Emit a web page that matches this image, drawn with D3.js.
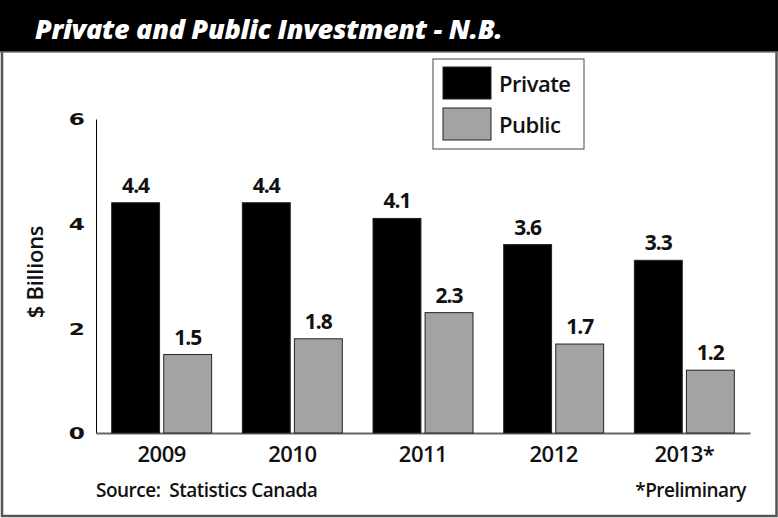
<!DOCTYPE html>
<html>
<head>
<meta charset="utf-8">
<script src="https://cdn.jsdelivr.net/npm/d3@7"></script>
<style>
  html, body { margin: 0; padding: 0; background: #fff; }
  svg { display: block; }
</style>
</head>
<body>
<svg id="chart" width="778" height="518"></svg>
<script>
// Investment in New Brunswick, $ billions
const years = ["2009", "2010", "2011", "2012", "2013*"];
const privateValues = [4.4, 4.4, 4.1, 3.6, 3.3];
const publicValues = [1.5, 1.8, 2.3, 1.7, 1.2];
const seriesNames = ["Private", "Public"];
const yTicks = [0, 2, 4, 6];

const colors = { Private: "#000000", Public: "#a3a3a3" };
const labelFont = "'Open Sans', sans-serif";

const svg = d3.select("#chart");
const W = 778, H = 518;

// Outer frame
svg.append("rect").attr("x", 2).attr("y", 1).attr("width", W - 3.5).attr("height", H - 3)
  .attr("fill", "#fff").attr("stroke", "#555").attr("stroke-width", 2.5);

// Title band
svg.append("rect").attr("x", 0).attr("y", 0).attr("width", W).attr("height", 52).attr("fill", "#000");
svg.append("line").attr("x1", 0).attr("x2", W).attr("y1", 52).attr("y2", 52)
  .attr("stroke", "#777").attr("stroke-width", 1.5);
svg.append("text").attr("x", 35).attr("y", 39)
  .attr("fill", "#fff").attr("font-family", labelFont)
  .attr("font-weight", 800).attr("font-style", "italic").attr("font-size", 27)
  .attr("letter-spacing", -0.3)
  .text("Private and Public Investment - N.B.");

// Scales
const x0 = d3.scaleBand().domain(years).range([96, 750]).paddingInner(0.235).paddingOuter(0.12);
const x1 = d3.scaleBand().domain(seriesNames).range([0, x0.bandwidth()]).paddingInner(0.08);
const y = d3.scaleLinear().domain([0, 6]).range([433, 119]);

// Axes
const yAxis = svg.append("g").attr("transform", "translate(96,0)")
  .call(d3.axisLeft(y).tickValues(yTicks).tickSize(0).tickPadding(11).tickFormat(d3.format("d")));
yAxis.select(".domain").attr("stroke", "#000").attr("stroke-width", 1);
// wide, low digits for the value axis
yAxis.selectAll("text")
  .attr("x", 0)
  .attr("transform", "translate(-11,0) scale(1.45,1)")
  .attr("font-family", "'DejaVu Sans', sans-serif").attr("font-weight", 700)
  .attr("font-size", 16).attr("dy", "0.36em").attr("fill", "#111");

const xAxis = svg.append("g").attr("transform", "translate(0,433)")
  .call(d3.axisBottom(x0).tickSize(0).tickPadding(13).tickSizeOuter(0));
xAxis.select(".domain").attr("stroke", "#666").attr("stroke-width", 2);
xAxis.selectAll("text").attr("font-family", labelFont).attr("font-weight", 600)
  .attr("font-size", 22).attr("letter-spacing", -0.5).attr("fill", "#111");

// Axis title
svg.append("text")
  .attr("transform", "translate(43,272) rotate(-90)")
  .attr("text-anchor", "middle")
  .attr("font-family", labelFont).attr("font-weight", 600).attr("font-size", 22)
  .attr("letter-spacing", -0.3).attr("fill", "#111")
  .text("$ Billions");

// Bars
const rows = years.map((yr, i) => ({ year: yr, Private: privateValues[i], Public: publicValues[i] }));
const groups = svg.selectAll("g.grp").data(rows).join("g").attr("class", "grp")
  .attr("transform", d => `translate(${x0(d.year)},0)`);

groups.selectAll("rect").data(d => seriesNames.map(k => ({ key: k, value: d[k] })))
  .join("rect")
  .attr("x", d => x1(d.key))
  .attr("y", d => y(d.value))
  .attr("width", x1.bandwidth())
  .attr("height", d => y(0) - y(d.value))
  .attr("fill", d => colors[d.key])
  .attr("stroke", "#222").attr("stroke-width", 1);

groups.selectAll("text.val").data(d => seriesNames.map(k => ({ key: k, value: d[k] })))
  .join("text").attr("class", "val")
  .attr("x", d => x1(d.key) + x1.bandwidth() / 2)
  .attr("y", d => y(d.value) - 10)
  .attr("text-anchor", "middle")
  .attr("font-family", labelFont).attr("font-weight", 700).attr("font-size", 21)
  .attr("letter-spacing", -1).attr("fill", "#111")
  .text(d => d3.format(".1f")(d.value));

// Legend
const lg = svg.append("g");
lg.append("rect").attr("x", 433).attr("y", 59).attr("width", 151).attr("height", 90)
  .attr("fill", "#fff").attr("stroke", "#444").attr("stroke-width", 1);
seriesNames.forEach((k, i) => {
  lg.append("rect").attr("x", 443).attr("y", 67 + i * 41).attr("width", 48).attr("height", 32)
    .attr("fill", colors[k]).attr("stroke", "#222").attr("stroke-width", 1);
  lg.append("text").attr("x", 499).attr("y", 92 + i * 41)
    .attr("font-family", labelFont).attr("font-weight", 600).attr("font-size", 22)
    .attr("letter-spacing", -0.5).attr("fill", "#111").text(k);
});

// Notes
svg.append("text").attr("x", 96).attr("y", 497)
  .attr("font-family", labelFont).attr("font-weight", 600).attr("font-size", 19)
  .attr("letter-spacing", -0.5).attr("fill", "#111")
  .attr("xml:space", "preserve").style("white-space", "pre")
  .text("Source:  Statistics Canada");
svg.append("text").attr("x", 746).attr("y", 497).attr("text-anchor", "end")
  .attr("font-family", labelFont).attr("font-weight", 600).attr("font-size", 19)
  .attr("letter-spacing", -0.5).attr("fill", "#111")
  .text("*Preliminary");
</script>
</body>
</html>
